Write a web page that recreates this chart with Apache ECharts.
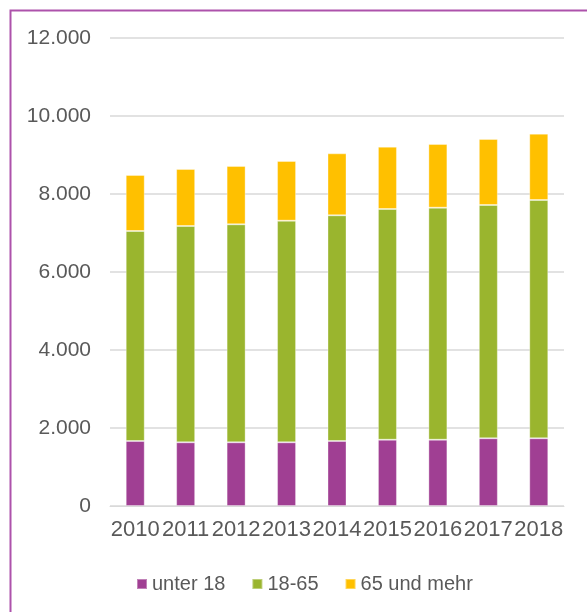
<!DOCTYPE html>
<html>
<head>
<meta charset="utf-8">
<script src="https://cdn.jsdelivr.net/npm/echarts@6/dist/echarts.min.js"></script>
<style>
html,body{margin:0;padding:0;background:#fff;}
#c{width:587px;height:612px;}
</style>
</head>
<body>
<div id="c"></div>
<script>
const years = ['2010','2011','2012','2013','2014','2015','2016','2017','2018'];
const unter18 = [1667,1633,1633,1633,1667,1700,1700,1736,1736];
const von18bis65 = [5384,5546,5589,5683,5786,5915,5950,5982,6110];
const ab65 = [1436,1462,1496,1530,1590,1598,1632,1692,1701];
const seriesNames = ['unter 18','18-65','65 und mehr'];
const yTicks = {min:0, max:12000, interval:2000};

const chart = echarts.init(document.getElementById('c'), null, {renderer:'canvas'});
const font = 'Liberation Sans, Arial, sans-serif';
const barStyle = (c) => ({color:c, borderColor:'rgba(255,255,255,0.35)', borderWidth:1});
chart.setOption({
  animation:false,
  backgroundColor:'#fff',
  textStyle:{fontFamily:font},
  graphic:[{
    type:'rect', left:8, top:8,
    shape:{width:700, height:700},
    style:{fill:'none', stroke:'#ad52ab', lineWidth:2},
    silent:true
  }],
  grid:{left:110, right:23, top:38, bottom:106, containLabel:false},
  legend:{
    left:131, top:569,
    itemWidth:10, itemHeight:10, itemGap:26,
    icon:'rect',
    textStyle:{fontFamily:font, fontSize:20, color:'#595959', padding:[0,0,0,0]},
    data:seriesNames
  },
  xAxis:{
    type:'category', data:years,
    axisLine:{show:true, lineStyle:{color:'#d9d9d9', width:1}},
    axisTick:{show:false},
    axisLabel:{fontFamily:font, fontSize:22, color:'#595959', margin:13, interval:0}
  },
  yAxis:{
    type:'value', min:yTicks.min, max:yTicks.max, interval:yTicks.interval,
    axisLine:{show:false}, axisTick:{show:false},
    splitLine:{lineStyle:{color:'#d9d9d9', width:1.5}},
    axisLabel:{fontFamily:font, fontSize:21, color:'#595959', margin:19,
      formatter:(v)=>v.toString().replace(/\B(?=(\d{3})+(?!\d))/g,'.')}
  },
  series:[
    {name:seriesNames[0], type:'bar', stack:'a', data:unter18, barWidth:19, itemStyle:barStyle('#a03f93')},
    {name:seriesNames[1], type:'bar', stack:'a', data:von18bis65, barWidth:19, itemStyle:barStyle('#9ab52e')},
    {name:seriesNames[2], type:'bar', stack:'a', data:ab65, barWidth:19, itemStyle:barStyle('#ffc000')}
  ]
});
</script>
</body>
</html>
